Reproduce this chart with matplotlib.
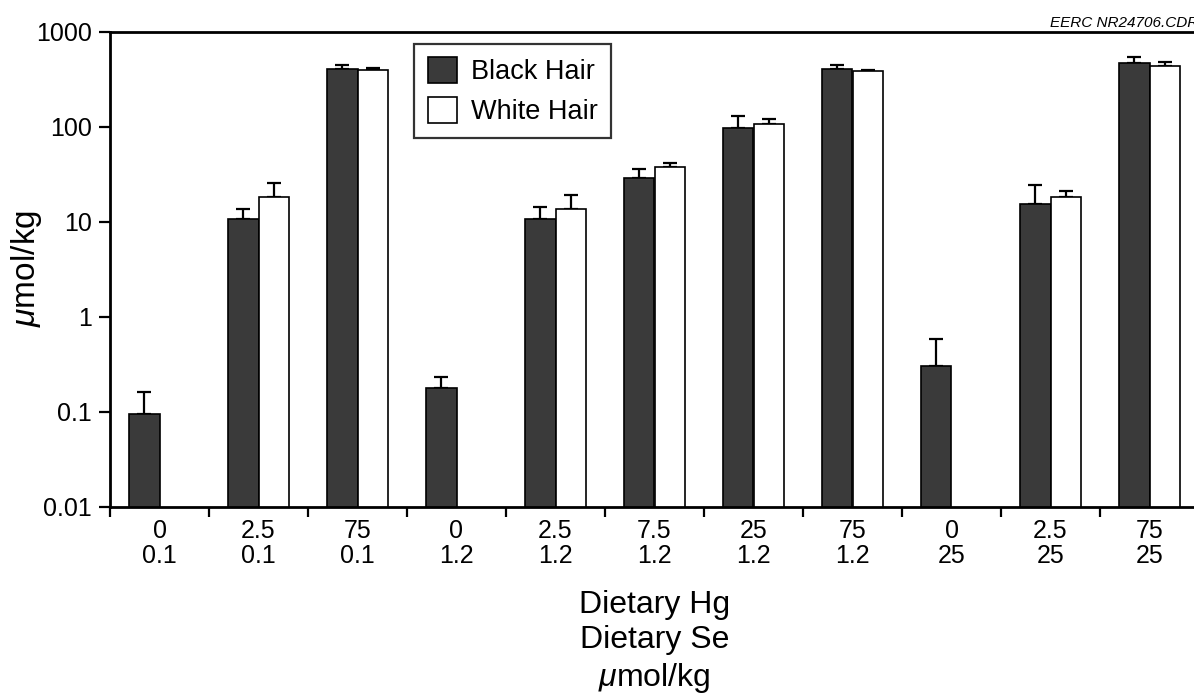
import numpy as np
import matplotlib
matplotlib.use('Agg')
import matplotlib.pyplot as plt

plt.rcParams['font.family'] = ['Liberation Sans', 'DejaVu Sans']
plt.rcParams['mathtext.fontset'] = 'custom'
plt.rcParams['mathtext.rm'] = 'Liberation Sans'
plt.rcParams['mathtext.it'] = 'Liberation Sans:italic'

hg = ['0', '2.5', '75', '0', '2.5', '7.5', '25', '75', '0', '2.5', '75']
se = ['0.1', '0.1', '0.1', '1.2', '1.2', '1.2', '1.2', '1.2', '25', '25', '25']

black = [0.094, 10.6, 405, 0.176, 10.6, 28.8, 97.5, 405, 0.30, 15.4, 465]
black_err = [0.066, 2.9, 40, 0.054, 3.6, 6.8, 32, 41, 0.28, 8.9, 73]
white = [np.nan, 18.1, 400, np.nan, 13.5, 37.4, 106, 388, np.nan, 18.1, 439]
white_err = [np.nan, 7.3, 14, np.nan, 5.6, 4.4, 14, 12, np.nan, 3.1, 37]

yticks = [0.01, 0.1, 1, 10, 100, 1000]
ytick_labels = ['0.01', '0.1', '1', '10', '100', '1000']

W, H = 1194, 698
fig = plt.figure(figsize=(W / 100, H / 100), dpi=100)
ax = fig.add_axes([110 / W, 1 - 506.7 / H, (1199 - 110) / W, (506.7 - 31.7) / H])

x = np.arange(len(hg))
bw = 0.31
err_kw = dict(ecolor='black', elinewidth=1.6, capsize=5, capthick=1.6)

ax.bar(x - bw / 2, black, bw, color='#3a3a3a', edgecolor='black', linewidth=1.2,
       label='Black Hair', zorder=2)
ax.errorbar(x - bw / 2, black, yerr=[np.zeros(len(black)), black_err], fmt='none', zorder=1, **err_kw)
ax.bar(x + bw / 2, white, bw, color='white', edgecolor='black', linewidth=1.2,
       label='White Hair', zorder=2)
ax.errorbar(x + bw / 2, white, yerr=[np.zeros(len(white)), white_err], fmt='none', zorder=1, **err_kw)

ax.set_yscale('log')
ax.set_ylim(0.01, 1000)
ax.set_xlim(-0.5, len(hg) - 0.5)
ax.set_yticks(yticks)
ax.set_yticklabels(ytick_labels)
ax.minorticks_off()
ax.tick_params(axis='y', which='major', direction='out', length=8, width=1.6, labelsize=18, pad=5)

# group labels in the middle, ticks between groups
ax.set_xticks(x)
ax.set_xticklabels([h + '\n' + s for h, s in zip(hg, se)], fontsize=18, linespacing=1.05)
ax.set_xticks(np.arange(len(hg)) - 0.5, minor=True)
ax.tick_params(axis='x', which='major', length=0, pad=9)
ax.tick_params(axis='x', which='minor', direction='out', length=7, width=1.6)

for s in ['left', 'bottom', 'top']:
    ax.spines[s].set_linewidth(2)
ax.spines['right'].set_visible(False)

ax.set_ylabel(r'$\mu$mol/kg', fontsize=24)
ax.yaxis.set_label_coords((26 - 110) / 1089, (506.7 - 268) / 475)
ax.yaxis.label.set_va('center')
ax.set_xlabel('Dietary Hg\nDietary Se\n' + r'$\mu$mol/kg', fontsize=23, labelpad=16, linespacing=1.22)

leg = ax.legend(loc='upper left', bbox_to_anchor=((414 - 110) / 1089, 0.975), fontsize=19.5,
                frameon=True, fancybox=False, edgecolor='black', handlelength=1.1, handleheight=1.1,
                handletextpad=0.5, borderpad=0.5, labelspacing=0.42, borderaxespad=0)
leg.get_frame().set_linewidth(1.6)

fig.text(1050 / W, 1 - 27 / H, 'EERC NR24706.CDR', fontsize=11, style='italic', ha='left', va='baseline')

fig.savefig('out.png', dpi=100)
